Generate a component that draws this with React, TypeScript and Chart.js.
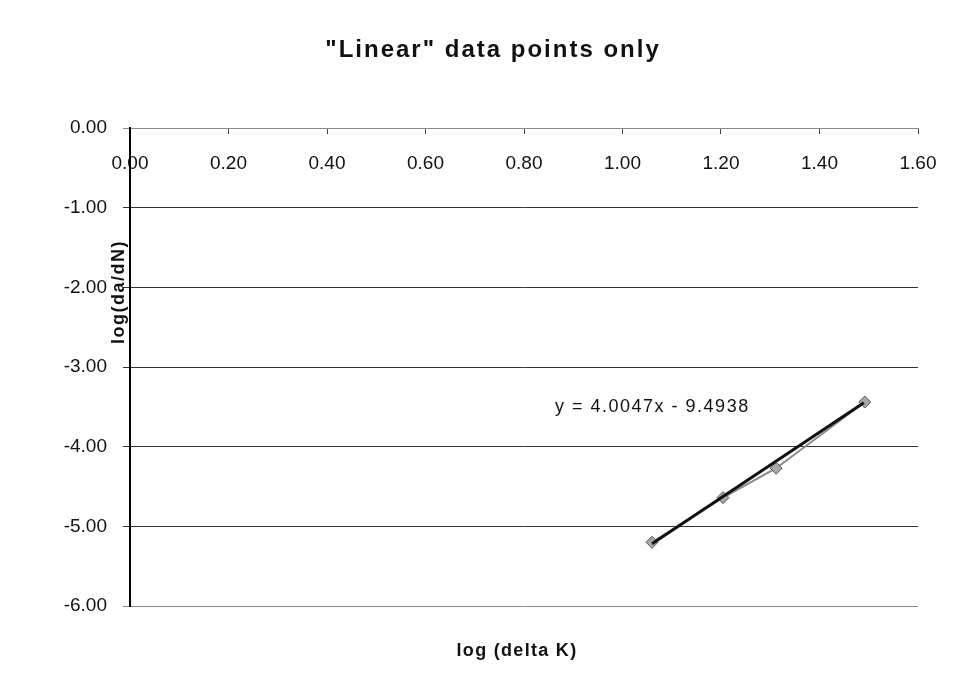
import { useEffect, useRef } from 'react';
import { Chart, registerables } from 'chart.js';

Chart.register(...registerables);

// ---- data ----
const pointsX = [1.06, 1.204, 1.312, 1.492];
const pointsY = [-5.2, -4.64, -4.27, -3.44];
const trendX = [1.06, 1.49];
const trendY = [-5.22, -3.45];

const chartTitle = '"Linear" data points only';
const xTitle = 'log (delta K)';
const yTitle = 'log(da/dN)';
const equationLabel = 'y = 4.0047x - 9.4938';
const equationAt = { x: 0.863, y: -3.5 };

const FONT = '"Liberation Sans", Arial, Helvetica, sans-serif';

const framePlugin = {
  id: 'sheetFrame',
  beforeDraw(chart: any) {
    const ctx = chart.ctx as CanvasRenderingContext2D;
    ctx.save();
    ctx.fillStyle = '#222';
    ctx.fillRect(0, 0, 2, chart.height);
    ctx.fillStyle = '#444';
    ctx.fillRect(0, 0, chart.width, 1);
    ctx.restore();
  },
};

const textPlugin = {
  id: 'excelTexts',
  afterDraw(chart: any) {
    const ctx = chart.ctx as CanvasRenderingContext2D;
    const xs = chart.scales.x;
    const ys = chart.scales.y;
    ctx.save();
    ctx.fillStyle = '#111';
    ctx.textBaseline = 'middle';
    ctx.textAlign = 'center';

    // chart title
    (ctx as any).letterSpacing = '2px';
    ctx.font = `bold 24px ${FONT}`;
    ctx.fillText(chartTitle, 487, 43);

    // x axis title
    (ctx as any).letterSpacing = '1.3px';
    ctx.font = `bold 18px ${FONT}`;
    ctx.fillText(xTitle, 511, 644);

    // y axis title
    ctx.save();
    ctx.translate(113, 285);
    ctx.rotate(-Math.PI / 2);
    (ctx as any).letterSpacing = '1.5px';
    ctx.font = `bold 18px ${FONT}`;
    ctx.fillText(yTitle, 0, 0);
    ctx.restore();

    // trendline equation
    (ctx as any).letterSpacing = '1.5px';
    ctx.font = `18px ${FONT}`;
    ctx.textAlign = 'left';
    ctx.fillText(equationLabel, xs.getPixelForValue(equationAt.x), ys.getPixelForValue(equationAt.y));
    (ctx as any).letterSpacing = '0px';
    ctx.restore();
  },
};

export default function App() {
  const ref = useRef<HTMLCanvasElement | null>(null);

  useEffect(() => {
    if (!ref.current) return;
    const chart = new Chart(ref.current, {
      type: 'scatter',
      data: {
        datasets: [
          {
            label: 'Trendline',
            data: trendX.map((x, i) => ({ x, y: trendY[i] })),
            showLine: true,
            borderColor: '#111',
            borderWidth: 3,
            pointRadius: 0,
            order: 0,
          },
          {
            label: 'Data',
            data: pointsX.map((x, i) => ({ x, y: pointsY[i] })),
            showLine: true,
            borderColor: '#8a8a8a',
            borderWidth: 2,
            pointStyle: 'rectRot',
            pointRadius: 6,
            pointBackgroundColor: '#a8a8a8',
            pointBorderColor: '#555',
            pointBorderWidth: 1,
            order: 1,
          },
        ],
      },
      options: {
        animation: false,
        responsive: true,
        maintainAspectRatio: false,
        layout: { padding: { left: 0, right: 38, top: 121, bottom: 78 } },
        plugins: {
          legend: { display: false },
          tooltip: { enabled: false },
          title: { display: false },
        },
        scales: {
          x: {
            type: 'linear',
            position: { y: 0 } as any,
            min: 0,
            max: 1.6,
            ticks: {
              stepSize: 0.2,
              padding: 19,
              color: '#111',
              font: { family: FONT, size: 19 },
              callback: (v: any) => Number(v).toFixed(2),
            },
            grid: {
              drawOnChartArea: false,
              drawTicks: true,
              tickLength: 5,
              color: '#444',
            },
            border: { color: '#888', width: 1 },
          },
          y: {
            type: 'linear',
            min: -6,
            max: 0,
            afterFit: (scale: any) => {
              scale.width = 124;
            },
            ticks: {
              stepSize: 1,
              padding: 16,
              color: '#111',
              font: { family: FONT, size: 19 },
              callback: (v: any) => Number(v).toFixed(2),
            },
            grid: {
              drawTicks: true,
              tickLength: 7,
              color: (c: any) => (c.tick && (c.tick.value === 0 || c.tick.value === -6) ? '#8a8a8a' : '#333'),
              lineWidth: 1,
            },
            border: { color: '#000', width: 2 },
          },
        },
      },
      plugins: [framePlugin, textPlugin],
    });
    return () => chart.destroy();
  }, []);

  return (
    <div style={{ position: 'relative', width: 950, height: 677, marginLeft: -2, marginTop: -1 }}>
      <canvas ref={ref} />
    </div>
  );
}
